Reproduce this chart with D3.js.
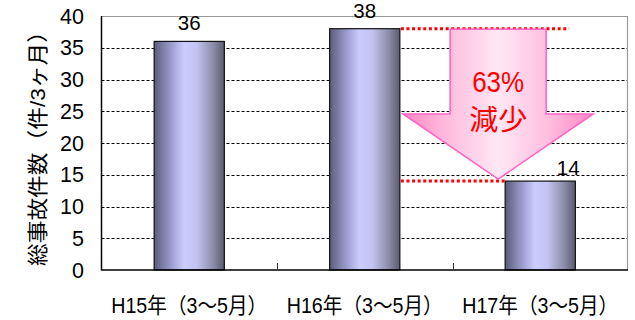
<!DOCTYPE html>
<html><head><meta charset="utf-8">
<script src="https://cdn.jsdelivr.net/npm/d3@7"></script>
<style>
html,body{margin:0;padding:0;background:#fff;}
svg{display:block;font-family:"Liberation Sans","Noto Sans CJK JP",sans-serif;}
</style></head>
<body>
<svg id="chart" width="635" height="320"></svg>
<script>
const categories = ["H15年（3～5月）", "H16年（3～5月）", "H17年（3～5月）"];
const values = [36, 38, 14];
const yTicks = [0, 5, 10, 15, 20, 25, 30, 35, 40];
const yTitle = "総事故件数（件/3ヶ月）";
const annoPct = "63%";
const annoText = "減少";

const svg = d3.select("#chart");
const m = {left: 101.5, right: 628, top: 16, bottom: 270};

const x = d3.scaleBand().domain(categories).range([m.left, m.right]).paddingInner(0.6).paddingOuter(0.3);
const y = d3.scaleLinear().domain([0, 40]).range([m.bottom, m.top]);

const defs = svg.append("defs");
const bg = defs.append("linearGradient").attr("id", "barGrad").attr("x1", "0").attr("x2", "1").attr("y1", "0").attr("y2", "0");
[[0, "#5c5c7a"], [0.18, "#8c8cba"], [0.42, "#cbcbff"], [0.6, "#c4c4f2"], [0.85, "#8a8aa6"], [1, "#5a5a72"]]
  .forEach(([o, c]) => bg.append("stop").attr("offset", o).attr("stop-color", c));
const ag = defs.append("linearGradient").attr("id", "arrowGrad").attr("x1", "0").attr("x2", "1").attr("y1", "0").attr("y2", "0");
[[0, "#ff88c6"], [0.25, "#ffbfe0"], [0.5, "#ffe8f4"], [0.75, "#ffc0e0"], [1, "#ff88c6"]]
  .forEach(([o, c]) => ag.append("stop").attr("offset", o).attr("stop-color", c));

// gridlines
svg.append("g").selectAll("line").data(yTicks.filter(d => d > 0 && d < 40)).join("line")
  .attr("x1", m.left).attr("x2", m.right)
  .attr("y1", d => Math.round(y(d)) + 0.5).attr("y2", d => Math.round(y(d)) + 0.5)
  .attr("stroke", "#000").attr("stroke-width", 1).attr("stroke-dasharray", "3,2");

// frame top/right gray
svg.append("line").attr("x1", m.left).attr("x2", m.right).attr("y1", y(40) + 0.5).attr("y2", y(40) + 0.5)
  .attr("stroke", "#999").attr("stroke-width", 1.2);
svg.append("line").attr("x1", m.right - 0.5).attr("x2", m.right - 0.5).attr("y1", y(40)).attr("y2", y(0))
  .attr("stroke", "#999").attr("stroke-width", 1.2);

// bars
svg.append("g").selectAll("rect").data(values).join("rect")
  .attr("x", (d, i) => x(categories[i]))
  .attr("width", x.bandwidth())
  .attr("y", d => y(d))
  .attr("height", d => y(0) - y(d))
  .attr("fill", "url(#barGrad)")
  .attr("stroke", "#111").attr("stroke-width", 1.2);

// value labels
const labelDx = [0, 0, 28];
const labelDy = [-11, -11, -6];
svg.append("g").selectAll("text").data(values).join("text")
  .attr("x", (d, i) => x(categories[i]) + x.bandwidth() / 2 + labelDx[i])
  .attr("y", (d, i) => y(d) + labelDy[i])
  .attr("text-anchor", "middle").attr("font-size", 20.5).attr("fill", "#000")
  .text(d => d);

// axes lines
svg.append("line").attr("x1", m.left).attr("x2", m.left).attr("y1", y(40)).attr("y2", y(0) + 0.5)
  .attr("stroke", "#000").attr("stroke-width", 1.5);
svg.append("line").attr("x1", m.left).attr("x2", m.right).attr("y1", y(0)).attr("y2", y(0))
  .attr("stroke", "#000").attr("stroke-width", 1.5);

// category boundary ticks
const step = x.step();
const bounds = [1, 2].map(i => x(categories[i]) - x.paddingInner() * step / 2);
svg.append("g").selectAll("line").data(bounds).join("line")
  .attr("x1", d => Math.round(d) + 0.5).attr("x2", d => Math.round(d) + 0.5)
  .attr("y1", y(0)).attr("y2", y(0) - 7).attr("stroke", "#333").attr("stroke-width", 1);

// y tick labels
svg.append("g").selectAll("text").data(yTicks).join("text")
  .attr("x", 84).attr("y", d => y(d) + 7.5)
  .attr("text-anchor", "end").attr("font-size", 21.5).attr("fill", "#000")
  .text(d => d);

// category labels
svg.append("g").selectAll("text").data(categories).join("text")
  .attr("x", d => x(d) + x.bandwidth() / 2).attr("y", 313)
  .attr("text-anchor", "middle").attr("font-size", 21.5).attr("fill", "#000")
  .attr("textLength", 156).attr("lengthAdjust", "spacingAndGlyphs")
  .text(d => d);

// y title
svg.append("text")
  .attr("transform", `translate(44.5,${(20 + 266) / 2}) rotate(-90)`)
  .attr("text-anchor", "middle").attr("font-size", 21).attr("fill", "#000")
  .attr("textLength", 246).attr("lengthAdjust", "spacingAndGlyphs")
  .text(yTitle);

// red dotted reference lines
const b2r = x(categories[1]) + x.bandwidth();
const b3l = x(categories[2]);
svg.append("line").attr("x1", b2r + 1).attr("x2", b3l + 64).attr("y1", y(values[1])).attr("y2", y(values[1]))
  .attr("stroke", "#ff0000").attr("stroke-width", 3).attr("stroke-dasharray", "3,2.6");
svg.append("line").attr("x1", b2r + 1).attr("x2", b3l).attr("y1", y(values[2])).attr("y2", y(values[2]))
  .attr("stroke", "#ff0000").attr("stroke-width", 3).attr("stroke-dasharray", "3,2.6");

// arrow
const cx = b3l - 7;
const yTop = y(values[1]) + 0.5, yTip = y(values[2]) - 2, yNeck = 114;
const shaftHalf = 48, wingHalf = 95;
const pts = [[cx - shaftHalf, yTop], [cx + shaftHalf, yTop], [cx + shaftHalf, yNeck], [cx + wingHalf, yNeck],
  [cx, yTip], [cx - wingHalf, yNeck], [cx - shaftHalf, yNeck]];
svg.append("path").attr("d", d3.line()(pts) + "Z")
  .attr("fill", "url(#arrowGrad)").attr("stroke", "#ff66c4").attr("stroke-width", 1.6).attr("stroke-linejoin", "miter");

svg.append("text").attr("x", cx).attr("y", 92).attr("text-anchor", "middle")
  .attr("font-size", 29).attr("fill", "#ff0000")
  .attr("textLength", 52).attr("lengthAdjust", "spacingAndGlyphs").text(annoPct);
svg.append("text").attr("x", cx).attr("y", 130).attr("text-anchor", "middle")
  .attr("font-size", 28).attr("fill", "#ff0000").attr("font-family", "Noto Sans CJK JP")
  .attr("textLength", 58).attr("lengthAdjust", "spacingAndGlyphs").text(annoText);
</script>
</body></html>
